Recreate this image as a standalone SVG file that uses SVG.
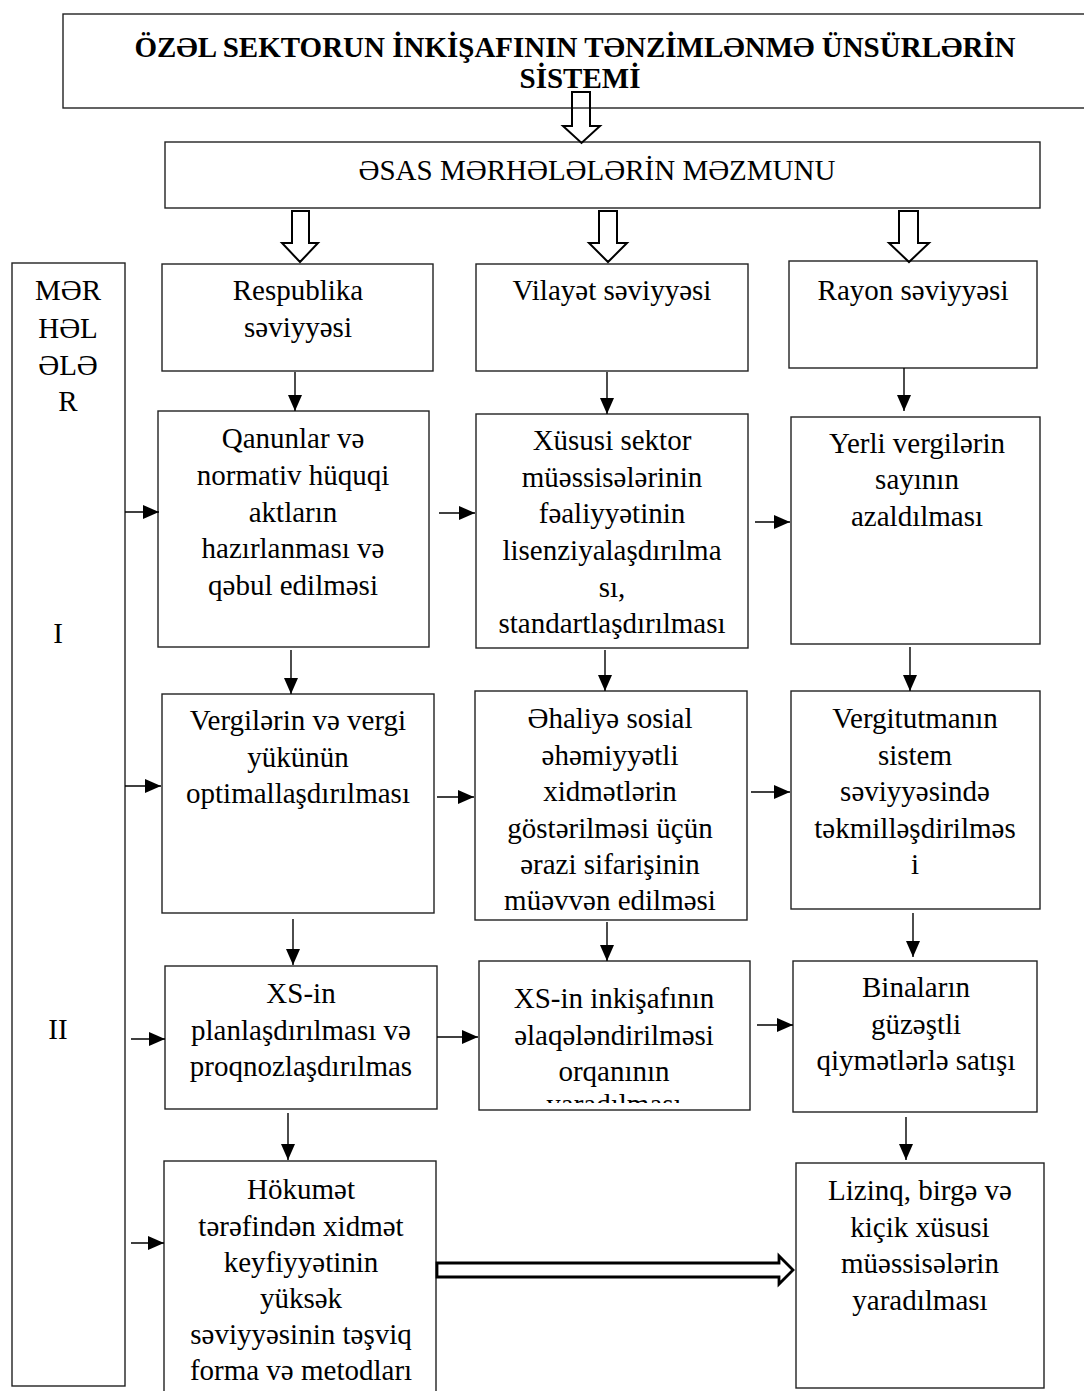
<svg xmlns="http://www.w3.org/2000/svg" width="1084" height="1391" viewBox="0 0 1084 1391">
<style>
.box{fill:#fff;stroke:#222;stroke-width:1.4}
.t{font-family:"Liberation Serif","Times New Roman",serif;font-size:29px;fill:#000;text-anchor:middle}
.tb{font-family:"Liberation Serif","Times New Roman",serif;font-size:29px;font-weight:bold;fill:#000;text-anchor:middle}
.ln{stroke:#000;stroke-width:1.4;fill:none}
.ha{fill:#fff;stroke:#000;stroke-width:2}
</style>
<defs>
<marker id="ah" markerUnits="userSpaceOnUse" markerWidth="16" markerHeight="14" refX="16" refY="7" orient="auto">
<path d="M0,0 L16,7 L0,14 z" fill="#000"/>
</marker>
<clipPath id="clipXS2"><rect x="479" y="961" width="271" height="142"/></clipPath>
</defs>
<rect width="1084" height="1391" fill="#fff"/>

<g id="title">
<rect class="box" x="63" y="14" width="1030" height="94"/>
<text class="tb" x="575" y="57">ÖZƏL SEKTORUN İNKİŞAFININ TƏNZİMLƏNMƏ ÜNSÜRLƏRİN</text>
<text class="tb" x="580" y="88">SİSTEMİ</text>
</g>

<g id="esas">
<rect class="box" x="165" y="142" width="875" height="66"/>
<text class="t" x="597" y="180">ƏSAS MƏRHƏLƏLƏRİN MƏZMUNU</text>
</g>

<g id="merheleler">
<rect class="box" x="12" y="263" width="113" height="1123"/>
<text class="t" x="68" y="300">MƏR</text>
<text class="t" x="68" y="338">HƏL</text>
<text class="t" x="68" y="375">ƏLƏ</text>
<text class="t" x="68" y="411">R</text>
<text class="t" x="58" y="643">I</text>
<text class="t" x="58" y="1039">II</text>
</g>

<g id="respublika">
<rect class="box" x="162" y="264" width="271" height="107"/>
<text class="t" x="298" y="300">Respublika</text>
<text class="t" x="298" y="337">səviyyəsi</text>
</g>
<g id="vilayet">
<rect class="box" x="476" y="264" width="272" height="107"/>
<text class="t" x="612" y="300">Vilayət səviyyəsi</text>
</g>
<g id="rayon">
<rect class="box" x="789" y="261" width="248" height="107"/>
<text class="t" x="913" y="300">Rayon səviyyəsi</text>
</g>

<g id="qanunlar">
<rect class="box" x="158" y="411" width="271" height="236"/>
<text class="t" x="293" y="448">Qanunlar və</text>
<text class="t" x="293" y="485">normativ hüquqi</text>
<text class="t" x="293" y="522">aktların</text>
<text class="t" x="293" y="558">hazırlanması və</text>
<text class="t" x="293" y="595">qəbul edilməsi</text>
</g>
<g id="xususi">
<rect class="box" x="476" y="414" width="272" height="234"/>
<text class="t" x="612" y="450">Xüsusi sektor</text>
<text class="t" x="612" y="487">müəssisələrinin</text>
<text class="t" x="612" y="523">fəaliyyətinin</text>
<text class="t" x="612" y="560">lisenziyalaşdırılma</text>
<text class="t" x="612" y="597">sı,</text>
<text class="t" x="612" y="633">standartlaşdırılması</text>
</g>
<g id="yerli">
<rect class="box" x="791" y="417" width="249" height="227"/>
<text class="t" x="917" y="453">Yerli vergilərin</text>
<text class="t" x="917" y="489">sayının</text>
<text class="t" x="917" y="526">azaldılması</text>
</g>

<g id="vergilerin">
<rect class="box" x="162" y="694" width="272" height="219"/>
<text class="t" x="298" y="730">Vergilərin və vergi</text>
<text class="t" x="298" y="767">yükünün</text>
<text class="t" x="298" y="803">optimallaşdırılması</text>
</g>
<g id="ehaliye">
<rect class="box" x="475" y="691" width="272" height="229"/>
<text class="t" x="610" y="728">Əhaliyə sosial</text>
<text class="t" x="610" y="765">əhəmiyyətli</text>
<text class="t" x="610" y="801">xidmətlərin</text>
<text class="t" x="610" y="838">göstərilməsi üçün</text>
<text class="t" x="610" y="874">ərazi sifarişinin</text>
<text class="t" x="610" y="910">müəvvən edilməsi</text>
</g>
<g id="vergitutma">
<rect class="box" x="791" y="691" width="249" height="218"/>
<text class="t" x="915" y="728">Vergitutmanın</text>
<text class="t" x="915" y="765">sistem</text>
<text class="t" x="915" y="801">səviyyəsində</text>
<text class="t" x="915" y="838">təkmilləşdirilməs</text>
<text class="t" x="915" y="874">i</text>
</g>

<g id="xsin">
<rect class="box" x="165" y="966" width="272" height="143"/>
<text class="t" x="301" y="1003">XS-in</text>
<text class="t" x="301" y="1040">planlaşdırılması və</text>
<text class="t" x="301" y="1076">proqnozlaşdırılmas</text>
</g>
<g id="xsinkisaf">
<rect class="box" x="479" y="961" width="271" height="149"/>
<g clip-path="url(#clipXS2)">
<text class="t" x="614" y="1008">XS-in inkişafının</text>
<text class="t" x="614" y="1045">əlaqələndirilməsi</text>
<text class="t" x="614" y="1081">orqanının</text>
<text class="t" x="614" y="1114">yaradılması</text>
</g>
</g>
<g id="binalar">
<rect class="box" x="793" y="961" width="244" height="151"/>
<text class="t" x="916" y="997">Binaların</text>
<text class="t" x="916" y="1034">güzəştli</text>
<text class="t" x="916" y="1070">qiymətlərlə satışı</text>
</g>

<g id="hokumet">
<rect class="box" x="164" y="1161" width="272" height="260"/>
<text class="t" x="301" y="1199">Hökumət</text>
<text class="t" x="301" y="1236">tərəfindən xidmət</text>
<text class="t" x="301" y="1272">keyfiyyətinin</text>
<text class="t" x="301" y="1308">yüksək</text>
<text class="t" x="301" y="1344">səviyyəsinin təşviq</text>
<text class="t" x="301" y="1380">forma və metodları</text>
</g>
<g id="lizinq">
<rect class="box" x="796" y="1163" width="248" height="225"/>
<text class="t" x="920" y="1200">Lizinq, birgə və</text>
<text class="t" x="920" y="1237">kiçik xüsusi</text>
<text class="t" x="920" y="1273">müəssisələrin</text>
<text class="t" x="920" y="1310">yaradılması</text>
</g>

<g id="connectors">
<polygon points="572,92 590,92 590,126 600,126 581.5,143 563,126 572,126" fill="none" stroke="#000" stroke-width="2"/>
<polygon class="ha" points="292,211 309,211 309,243 318,243 300,262 282,243 292,243"/>
<polygon class="ha" points="599,211 617,211 617,243 627,243 608,262 589,243 599,243"/>
<polygon class="ha" points="899,211 918,211 918,243 929,243 909,262 889,243 899,243"/>

<line class="ln" x1="295" y1="372" x2="295" y2="411" marker-end="url(#ah)"/>
<line class="ln" x1="607" y1="372" x2="607" y2="414" marker-end="url(#ah)"/>
<line class="ln" x1="904" y1="368" x2="904" y2="411" marker-end="url(#ah)"/>
<line class="ln" x1="291" y1="650" x2="291" y2="694" marker-end="url(#ah)"/>
<line class="ln" x1="605" y1="650" x2="605" y2="691" marker-end="url(#ah)"/>
<line class="ln" x1="910" y1="647" x2="910" y2="691" marker-end="url(#ah)"/>
<line class="ln" x1="293" y1="919" x2="293" y2="965" marker-end="url(#ah)"/>
<line class="ln" x1="607" y1="922" x2="607" y2="961" marker-end="url(#ah)"/>
<line class="ln" x1="913" y1="913" x2="913" y2="957" marker-end="url(#ah)"/>
<line class="ln" x1="288" y1="1113" x2="288" y2="1160" marker-end="url(#ah)"/>
<line class="ln" x1="906" y1="1117" x2="906" y2="1160" marker-end="url(#ah)"/>

<line class="ln" x1="125" y1="512" x2="159" y2="512" marker-end="url(#ah)"/>
<line class="ln" x1="439" y1="513" x2="475" y2="513" marker-end="url(#ah)"/>
<line class="ln" x1="755" y1="522" x2="790" y2="522" marker-end="url(#ah)"/>
<line class="ln" x1="125" y1="786" x2="161" y2="786" marker-end="url(#ah)"/>
<line class="ln" x1="437" y1="797" x2="474" y2="797" marker-end="url(#ah)"/>
<line class="ln" x1="751" y1="792" x2="790" y2="792" marker-end="url(#ah)"/>
<line class="ln" x1="131" y1="1039" x2="165" y2="1039" marker-end="url(#ah)"/>
<line class="ln" x1="437" y1="1037" x2="478" y2="1037" marker-end="url(#ah)"/>
<line class="ln" x1="757" y1="1025" x2="793" y2="1025" marker-end="url(#ah)"/>
<line class="ln" x1="131" y1="1243" x2="164" y2="1243" marker-end="url(#ah)"/>

<polygon points="437,1263 779,1263 779,1256 793,1270 779,1284 779,1277 437,1277" fill="#fff" stroke="#000" stroke-width="2.8"/>
</g>
</svg>
